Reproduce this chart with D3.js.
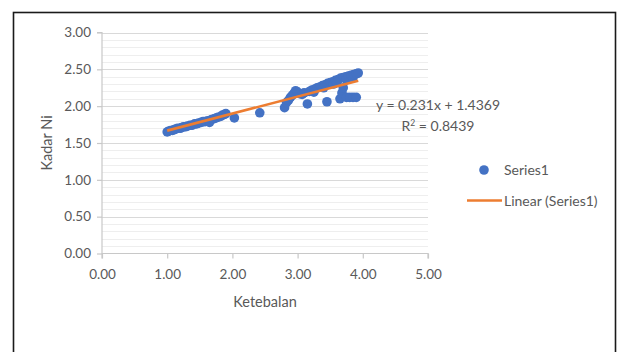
<!DOCTYPE html>
<html>
<head>
<meta charset="utf-8">
<script src="https://cdn.jsdelivr.net/npm/d3@7"></script>
<style>
  html, body { margin: 0; padding: 0; background: #fff; }
  svg { display: block; font-family: Lato, "Liberation Sans", sans-serif; }
</style>
</head>
<body>
<svg id="chart" width="617" height="352"></svg>
<script>
// Ketebalan (thickness) vs Kadar Ni (nickel grade) observations
const ketebalan = [
  1.00, 1.02, 1.05, 1.08, 1.10, 1.13, 1.16, 1.20, 1.22, 1.25,
  1.28, 1.31, 1.35, 1.38, 1.42, 1.45, 1.48, 1.52, 1.55, 1.58,
  1.62, 1.65, 1.68, 1.72, 1.75, 1.78, 1.82, 1.85, 1.88, 1.90,
  2.03, 2.42, 2.80, 2.83, 2.86, 2.89, 2.92, 2.95, 2.97, 3.00,
  3.03, 3.07, 3.10, 3.15, 3.18, 3.22, 3.26, 3.30, 3.34, 3.38,
  3.42, 3.45, 3.46, 3.50, 3.54, 3.55, 3.58, 3.62, 3.65, 3.66,
  3.68, 3.70, 3.70, 3.74, 3.75, 3.75, 3.78, 3.80, 3.82, 3.85,
  3.85, 3.86, 3.90, 3.90, 3.93, 3.40, 3.60, 3.25
];
const kadarNi = [
  1.65, 1.66, 1.67, 1.67, 1.68, 1.69, 1.70, 1.70, 1.71, 1.72,
  1.72, 1.73, 1.74, 1.74, 1.76, 1.76, 1.77, 1.78, 1.79, 1.79,
  1.80, 1.78, 1.82, 1.83, 1.84, 1.85, 1.86, 1.88, 1.89, 1.90,
  1.84, 1.91, 1.98, 2.05, 2.08, 2.12, 2.15, 2.18, 2.21, 2.19,
  2.17, 2.16, 2.18, 2.03, 2.20, 2.22, 2.23, 2.25, 2.26, 2.28,
  2.29, 2.06, 2.31, 2.32, 2.33, 2.30, 2.35, 2.36, 2.10, 2.38,
  2.18, 2.25, 2.39, 2.40, 2.12, 2.36, 2.41, 2.12, 2.42, 2.12,
  2.39, 2.43, 2.12, 2.44, 2.45, 2.25, 2.32, 2.19
];

// Linear trendline coefficients (as printed on the chart)
const slope = 0.231;
const intercept = 1.4369;
const rSquared = 0.8439;

const xTicks = [0, 1, 2, 3, 4, 5];
const yTicks = [0, 0.5, 1, 1.5, 2, 2.5, 3];
const yMinorTicks = d3.range(0, 30.5, 1).map(v => v / 10);

const svg = d3.select("#chart");
const textColor = "#595959";

// outer chart frame
svg.append("rect")
  .attr("x", 13.5).attr("y", 12.5)
  .attr("width", 602).attr("height", 400)
  .attr("fill", "none").attr("stroke", "#1a1a1a").attr("stroke-width", 1.6);

const plot = { left: 102, right: 428, top: 32.5, bottom: 253.5 };
const x = d3.scaleLinear().domain([0, 5]).range([plot.left, plot.right]);
const y = d3.scaleLinear().domain([0, 3]).range([plot.bottom, plot.top]);

// minor gridlines
svg.append("g").selectAll("line")
  .data(yMinorTicks.filter(v => Math.round(v * 10) % 5 !== 0))
  .join("line")
  .attr("x1", plot.left).attr("x2", plot.right)
  .attr("y1", d => Math.round(y(d)) + 0.5).attr("y2", d => Math.round(y(d)) + 0.5)
  .attr("stroke", "#eeeeee").attr("stroke-width", 1);

// major gridlines
svg.append("g").selectAll("line")
  .data(yTicks.filter(v => v > 0))
  .join("line")
  .attr("x1", plot.left).attr("x2", plot.right)
  .attr("y1", d => Math.round(y(d)) + 0.5).attr("y2", d => Math.round(y(d)) + 0.5)
  .attr("stroke", "#d9d9d9").attr("stroke-width", 1.2);

// y axis
const yAxis = svg.append("g")
  .attr("transform", `translate(${plot.left},0)`)
  .call(d3.axisLeft(y).tickValues(yTicks).tickFormat(d3.format(".2f")).tickSize(5).tickPadding(6));
// x axis
const xAxis = svg.append("g")
  .attr("transform", `translate(0,${plot.bottom})`)
  .call(d3.axisBottom(x).tickValues(xTicks).tickFormat(d3.format(".2f")).tickSize(5).tickPadding(11));

[yAxis, xAxis].forEach(g => {
  g.select(".domain").attr("stroke", "#c8c8c8").attr("stroke-width", 1.2);
  g.selectAll(".tick line").attr("stroke", "#c8c8c8").attr("stroke-width", 1.2);
  g.selectAll(".tick text")
    .attr("fill", textColor)
    .style("font-family", "Lato, 'Liberation Sans', sans-serif")
    .style("font-size", "13.5px");
});
xAxis.select(".domain").attr("d", `M${plot.left},5V0H${plot.right}V5`);
yAxis.select(".domain").attr("d", `M-5,${plot.top}H0V${plot.bottom}`);

// axis titles
svg.append("text")
  .attr("x", (plot.left + plot.right) / 2).attr("y", 307)
  .attr("text-anchor", "middle").attr("fill", textColor)
  .style("font-size", "14.5px").text("Ketebalan");
svg.append("text")
  .attr("transform", `translate(52,${(plot.top + plot.bottom) / 2}) rotate(-90)`)
  .attr("text-anchor", "middle").attr("fill", textColor)
  .style("font-size", "14.5px").text("Kadar Ni");

// scatter points
const points = ketebalan.map((k, i) => ({ x: k, y: kadarNi[i] }));
svg.append("g").selectAll("circle")
  .data(points)
  .join("circle")
  .attr("cx", d => x(d.x)).attr("cy", d => y(d.y))
  .attr("r", 4.8)
  .attr("fill", "#4472C4");

// linear trendline across the data range
const xExtent = d3.extent(ketebalan);
const trend = xExtent.map(v => ({ x: v, y: slope * v + intercept }));
svg.append("path")
  .datum(trend)
  .attr("d", d3.line().x(d => x(d.x)).y(d => y(d.y)))
  .attr("stroke", "#ED7D31").attr("stroke-width", 2.6).attr("fill", "none");

// trendline equation
svg.append("text")
  .attr("x", 438).attr("y", 110).attr("text-anchor", "middle")
  .attr("fill", textColor).style("font-size", "14px")
  .text(`y = ${slope}x + ${intercept}`);
const r2 = svg.append("text")
  .attr("x", 438).attr("y", 131).attr("text-anchor", "middle")
  .attr("fill", textColor).style("font-size", "14px");
r2.append("tspan").text("R");
r2.append("tspan").attr("dy", -5).style("font-size", "8.5px").text("2");
r2.append("tspan").attr("dy", 5).text(` = ${rSquared}`);

// legend
const legend = svg.append("g");
legend.append("circle").attr("cx", 484).attr("cy", 170).attr("r", 4.8).attr("fill", "#4472C4");
legend.append("text").attr("x", 504).attr("y", 175).attr("fill", textColor)
  .style("font-size", "14px").text("Series1");
legend.append("line").attr("x1", 467).attr("x2", 502).attr("y1", 200.5).attr("y2", 200.5)
  .attr("stroke", "#ED7D31").attr("stroke-width", 2.6);
legend.append("text").attr("x", 504).attr("y", 205.5).attr("fill", textColor)
  .style("font-size", "14px").text("Linear (Series1)");
</script>
</body>
</html>
